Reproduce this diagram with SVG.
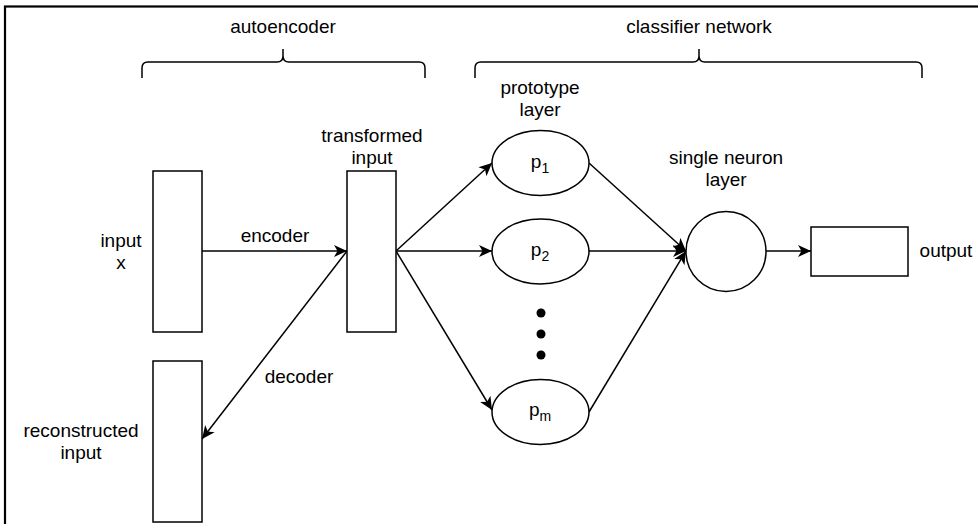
<svg xmlns="http://www.w3.org/2000/svg" width="978" height="524" viewBox="0 0 978 524">
<style>
text{font-family:"Liberation Sans",Arial,Helvetica,sans-serif;font-size:19px;fill:#000;text-anchor:middle}
.sub{font-size:14px}
.box{fill:#fff;stroke:#000;stroke-width:1.5}
.ln{fill:none;stroke:#000;stroke-width:1.5}
.br{fill:none;stroke:#000;stroke-width:1.5}
</style>
<defs>
<marker id="ah" markerWidth="14" markerHeight="12" refX="13" refY="6" orient="auto" markerUnits="userSpaceOnUse">
<path d="M0,0 L13,6 L0,12 L3.5,6 z" fill="#000"/>
</marker>
</defs>
<rect x="0" y="0" width="978" height="524" fill="#fff"/>
<rect x="5" y="6.5" width="1000" height="600" fill="none" stroke="#000" stroke-width="2.2"/>

<g id="brace-autoencoder">
<path class="br" d="M142,78 L142,68 Q142,62 148,62 L277,62 Q283,62 283,56 L283,49 M283,56 Q283,62 289,62 L419,62 Q425,62 425,68 L425,78"/>
<text x="283" y="33">autoencoder</text>
</g>
<g id="brace-classifier">
<path class="br" d="M475,78 L475,68 Q475,62 481,62 L693,62 Q699,62 699,56 L699,49 M699,56 Q699,62 705,62 L916,62 Q922,62 922,68 L922,78"/>
<text x="699" y="33">classifier network</text>
</g>

<g id="connectors">
<line class="ln" x1="202" y1="251" x2="347" y2="251" marker-end="url(#ah)"/>
<line class="ln" x1="347" y1="251" x2="202" y2="439" marker-end="url(#ah)"/>
<line class="ln" x1="396" y1="251" x2="492" y2="163" marker-end="url(#ah)"/>
<line class="ln" x1="396" y1="251" x2="492" y2="251" marker-end="url(#ah)"/>
<line class="ln" x1="396" y1="251" x2="492" y2="410" marker-end="url(#ah)"/>
<line class="ln" x1="589" y1="163" x2="686" y2="251" marker-end="url(#ah)"/>
<line class="ln" x1="589" y1="251" x2="686" y2="251" marker-end="url(#ah)"/>
<line class="ln" x1="589" y1="412" x2="686" y2="251" marker-end="url(#ah)"/>
<line class="ln" x1="766" y1="251" x2="811" y2="251" marker-end="url(#ah)"/>
<text x="275" y="242">encoder</text>
<text x="299" y="383">decoder</text>
</g>

<g id="input">
<rect class="box" x="153" y="171" width="49" height="161"/>
<text x="121" y="247">input</text>
<text x="121" y="269">x</text>
</g>
<g id="reconstructed">
<rect class="box" x="153" y="361" width="49" height="161"/>
<text x="81" y="437">reconstructed</text>
<text x="81" y="459">input</text>
</g>
<g id="transformed">
<rect class="box" x="347" y="171" width="49" height="161"/>
<text x="372" y="142">transformed</text>
<text x="372" y="164">input</text>
</g>

<g id="prototype-label">
<text x="540" y="94">prototype</text>
<text x="540" y="116">layer</text>
</g>
<g id="p1">
<ellipse class="box" cx="540.5" cy="163" rx="48.5" ry="32.5"/>
<text x="540" y="168">p<tspan class="sub" dy="5">1</tspan></text>
</g>
<g id="p2">
<ellipse class="box" cx="540.5" cy="251.5" rx="48.5" ry="32.5"/>
<text x="540" y="256">p<tspan class="sub" dy="5">2</tspan></text>
</g>
<g id="dots">
<circle cx="541" cy="313" r="4.5" fill="#000"/>
<circle cx="541" cy="334" r="4.5" fill="#000"/>
<circle cx="541" cy="355" r="4.5" fill="#000"/>
</g>
<g id="pm">
<ellipse class="box" cx="540.5" cy="412" rx="48.5" ry="32.5"/>
<text x="540" y="416">p<tspan class="sub" dy="5">m</tspan></text>
</g>

<g id="neuron">
<circle class="box" cx="726" cy="251.5" r="40"/>
<text x="726" y="164">single neuron</text>
<text x="726" y="186">layer</text>
</g>
<g id="output">
<rect class="box" x="811" y="227" width="97" height="49"/>
<text x="946" y="257">output</text>
</g>
</svg>
